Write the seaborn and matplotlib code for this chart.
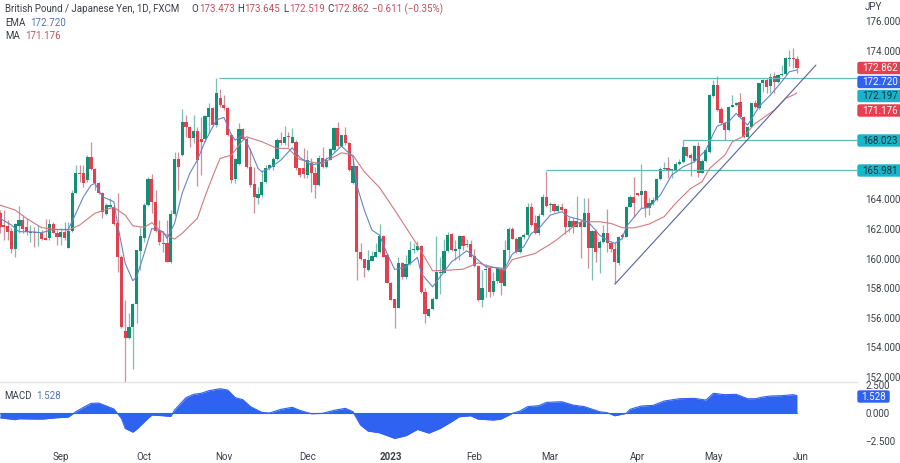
"""GBP/JPY daily chart with EMA, MA, support lines and a MACD pane."""

import matplotlib.pyplot as plt
from matplotlib.patches import FancyBboxPatch
import pandas as pd
import seaborn as sns

opens = [
    163.05, 162.26, 162.19, 161.88, 160.62, 162.19, 162.6, 162.1, 161.72, 161.74,
    161.72, 161.7, 161.36, 161.36, 162.33, 161.74, 161.47, 161.81, 160.73, 161.88,
    164.44, 165.74, 165.74, 165.29, 166.82, 166.01, 165.11, 164.39, 163.0, 163.5,
    163.49, 162.37, 160.12, 155.1, 154.67, 155.35, 156.9, 160.52, 161.36, 163.61,
    165.36, 163.83, 161.92, 161.04, 161.02, 159.78, 163.0, 166.69, 166.98, 169.18,
    168.89, 168.1, 168.62, 168.03, 168.03, 169.57, 170.13, 169.0, 170.8, 170.35,
    170.13, 168.33, 165.34, 166.37, 168.71, 168.03, 166.19, 165.02, 164.05, 164.28,
    165.18, 166.08, 166.19, 166.69, 167.99, 167.77, 168.22, 167.81, 167.88, 166.08,
    166.08, 165.63, 166.46, 165.78, 164.95, 166.75, 166.19, 166.68, 167.32, 168.82,
    167.58, 168.33, 167.81, 165.07, 166.24, 160.41, 160.0, 159.21, 159.85, 160.12,
    160.45, 161.51, 160.23, 158.36, 157.25, 156.67, 159.71, 158.72, 159.62, 160.57,
    160.57, 160.86, 157.75, 156.11, 156.58, 157.3, 159.03, 159.03, 160.5, 161.65,
    160.52, 160.61, 161.51, 160.9, 160.95, 160.16, 159.51, 157.19, 159.21, 159.37,
    157.75, 158.5, 159.28, 158.16, 160.57, 161.96, 161.35, 160.45, 161.42, 161.58,
    163.45, 162.37, 161.69, 162.93, 164.12, 163.58, 163.65, 163.22, 163.45, 163.31,
    162.1, 162.54, 162.14, 162.43, 162.14, 163.08, 160.74, 161.87, 160.68, 161.13,
    161.73, 161.06, 160.61, 159.67, 161.58, 161.47, 163.49, 164.17, 164.39, 164.28,
    164.57, 163.38, 163.67, 163.94, 165.34, 166.01, 166.08, 165.97, 165.92, 166.35,
    166.53, 167.5, 166.98, 166.6, 167.59, 165.78, 166.6, 167.2, 170.98, 171.7,
    170.06, 169.11, 168.67, 170.24, 170.35, 170.58, 169.57, 168.21, 168.89, 170.47,
    170.13, 171.82, 172.04, 171.63, 172.31, 171.93, 172.38, 172.44, 173.46, 173.48,
    173.473,
]
highs = [
    163.27, 163.27, 162.6, 162.03, 162.37, 163.54, 162.93, 162.71, 162.26, 162.15,
    162.26, 161.92, 162.64, 162.64, 162.48, 161.92, 162.03, 162.48, 162.48, 164.62,
    166.3, 166.3, 166.3, 166.98, 167.88, 166.08, 165.18, 164.5, 163.72, 164.06,
    163.54, 164.39, 160.23, 157.2, 156.3, 156.97, 160.6, 162.1, 163.72, 165.5,
    165.7, 164.62, 162.6, 161.81, 162.6, 163.27, 167.2, 167.2, 170.06, 169.68,
    168.93, 169.68, 168.89, 169.57, 169.68, 170.47, 170.2, 172.15, 171.41, 171.03,
    170.2, 168.44, 166.75, 169.12, 168.78, 168.21, 167.43, 166.19, 164.84, 165.97,
    166.3, 166.41, 166.87, 168.1, 168.55, 168.93, 168.55, 168.78, 167.99, 166.12,
    167.43, 167.31, 166.75, 166.19, 166.98, 167.54, 166.87, 167.43, 168.89, 169.23,
    168.33, 168.89, 167.88, 166.75, 166.24, 161.02, 160.0, 160.57, 160.52, 161.02,
    162.32, 161.58, 160.3, 158.43, 157.3, 160.12, 159.78, 160.23, 161.2, 161.02,
    161.2, 160.9, 157.98, 156.63, 157.41, 161.51, 160.12, 161.29, 161.8, 161.74,
    161.24, 161.62, 161.58, 161.29, 161.24, 160.61, 159.55, 159.21, 159.62, 159.44,
    159.1, 159.44, 159.33, 161.24, 162.14, 162.14, 161.42, 161.51, 161.69, 163.72,
    163.72, 162.93, 163.04, 164.35, 165.92, 163.83, 163.76, 163.67, 163.72, 163.38,
    162.81, 162.7, 164.21, 162.59, 164.05, 164.05, 161.92, 161.96, 161.24, 162.25,
    163.31, 161.13, 161.13, 161.51, 161.69, 163.54, 164.28, 165.47, 164.44, 166.37,
    164.62, 164.05, 164.17, 165.4, 166.19, 166.53, 166.82, 166.01, 166.53, 166.69,
    167.99, 167.54, 167.09, 167.63, 167.88, 166.69, 167.43, 171.1, 172.04, 172.31,
    170.24, 169.23, 170.29, 171.03, 170.58, 171.14, 169.61, 168.93, 170.51, 170.69,
    171.86, 172.09, 172.15, 172.53, 172.6, 172.44, 173.05, 173.57, 174.07, 174.22,
    173.645,
]
lows = [
    161.7, 161.25, 161.25, 160.35, 160.12, 161.7, 161.7, 161.58, 161.13, 160.8,
    160.84, 161.25, 161.25, 161.25, 161.7, 160.91, 160.91, 161.25, 160.68, 161.81,
    164.39, 165.18, 164.84, 165.18, 165.97, 164.62, 164.35, 162.71, 162.93, 163.45,
    162.26, 159.11, 155.28, 151.6, 154.6, 152.54, 155.62, 159.22, 161.13, 163.54,
    163.05, 161.81, 160.91, 160.46, 159.78, 159.71, 162.9, 164.62, 166.91, 168.21,
    167.54, 167.76, 164.88, 165.63, 167.88, 168.44, 168.93, 168.89, 170.24, 170.02,
    168.26, 165.11, 165.11, 166.3, 167.99, 166.08, 164.84, 163.04, 163.67, 164.17,
    165.11, 165.97, 165.97, 166.64, 167.65, 167.65, 167.54, 167.76, 165.97, 165.51,
    165.4, 165.4, 164.5, 164.05, 164.88, 166.08, 166.08, 166.64, 167.2, 167.54,
    167.54, 167.65, 165.92, 165.02, 158.58, 159.89, 158.77, 159.17, 159.8, 160.07,
    160.38, 160.07, 158.32, 157.19, 155.32, 156.63, 158.65, 158.65, 159.55, 160.34,
    160.52, 157.69, 155.66, 156.07, 156.52, 157.25, 157.64, 158.99, 160.45, 160.52,
    159.89, 159.89, 160.57, 160.79, 160.07, 159.44, 157.12, 156.7, 157.41, 157.41,
    157.53, 158.36, 157.53, 158.14, 159.89, 161.29, 160.38, 160.38, 161.35, 161.51,
    162.18, 161.65, 161.62, 162.86, 163.49, 163.15, 163.15, 163.15, 163.22, 161.65,
    161.8, 161.69, 162.1, 160.05, 162.1, 159.33, 158.54, 159.78, 158.99, 161.06,
    160.45, 160.45, 158.32, 159.55, 161.35, 161.42, 163.45, 162.82, 164.21, 163.38,
    162.77, 162.93, 163.6, 163.9, 165.29, 165.96, 165.4, 165.4, 165.85, 166.3,
    166.46, 166.82, 165.56, 166.53, 165.47, 165.74, 166.53, 167.15, 170.91, 169.97,
    169.07, 167.99, 168.62, 170.2, 170.29, 169.45, 168.1, 168.17, 168.85, 170.13,
    170.06, 171.25, 171.19, 171.19, 171.19, 171.82, 172.31, 172.38, 173.01, 172.83,
    172.519,
]
closes = [
    162.15, 162.1, 161.81, 160.62, 162.3, 162.6, 161.97, 161.81, 161.74, 161.72,
    161.74, 161.29, 161.25, 162.33, 161.74, 161.47, 161.81, 161.36, 161.88, 164.44,
    165.78, 165.69, 165.11, 166.82, 166.01, 165.11, 164.39, 163.16, 163.61, 163.61,
    162.33, 160.12, 155.4, 154.67, 155.35, 156.9, 160.57, 161.5, 163.61, 165.36,
    163.83, 161.88, 161.13, 161.0, 159.78, 163.0, 166.69, 166.19, 169.18, 168.89,
    168.1, 168.62, 166.64, 167.88, 169.61, 170.13, 169.0, 171.19, 170.35, 170.13,
    168.33, 165.29, 166.69, 168.71, 168.03, 166.19, 164.95, 164.17, 164.32, 165.18,
    166.12, 166.3, 166.69, 167.99, 167.77, 168.22, 168.17, 168.17, 166.12, 165.63,
    165.7, 166.64, 165.78, 164.95, 166.75, 166.19, 166.68, 167.36, 168.82, 167.58,
    168.33, 167.77, 165.97, 166.24, 160.41, 159.96, 159.33, 159.89, 160.16, 160.45,
    161.51, 160.12, 158.36, 157.23, 156.67, 159.71, 158.72, 159.62, 160.57, 160.61,
    160.86, 157.71, 156.24, 156.58, 157.3, 159.1, 159.05, 160.5, 161.62, 160.57,
    160.61, 161.51, 160.86, 160.93, 160.12, 159.49, 157.19, 157.98, 159.3, 157.75,
    158.5, 159.33, 158.36, 160.57, 161.96, 161.35, 160.45, 161.42, 161.58, 163.45,
    162.25, 161.69, 162.86, 164.12, 163.54, 163.6, 163.22, 163.54, 163.27, 162.1,
    162.54, 162.14, 162.54, 162.14, 163.08, 160.74, 161.87, 160.45, 161.13, 161.73,
    161.06, 160.61, 159.78, 161.47, 161.42, 163.49, 164.17, 163.72, 164.28, 164.57,
    163.38, 163.76, 163.94, 165.34, 166.03, 166.08, 165.92, 165.99, 166.35, 166.53,
    167.5, 166.91, 166.75, 167.59, 165.78, 166.6, 167.32, 171.03, 171.7, 170.0,
    169.11, 168.67, 170.24, 170.35, 170.51, 169.52, 168.17, 168.89, 170.47, 170.2,
    171.82, 172.04, 171.59, 172.27, 171.93, 172.38, 172.44, 173.5, 173.48, 173.46,
    172.862,
]

ma_idx = [
    0, 4, 7, 11, 15, 18, 21, 25, 27, 30, 33, 35, 38, 40, 43, 46, 48, 52, 54, 56,
    58, 61, 64, 65, 69, 73, 76, 78, 79, 83, 85, 88, 90, 93, 96, 100, 104, 110, 114,
    118, 122, 126, 128, 133, 135, 141, 146, 151, 153, 156, 158, 161, 164, 167, 171,
    175, 178, 182, 185, 187, 191, 193, 196, 199, 204, 207, 209, 210,
]
ma_vals = [
    163.6, 163.27, 162.7, 162.08, 161.96, 161.92, 162.26, 163.05, 163.23, 163.45,
    162.93, 162.21, 162.1, 162.42, 161.7, 161.31, 161.7, 162.71, 164.17, 165.52,
    166.75, 166.98, 167.99, 168.21, 167.88, 167.43, 167.43, 166.87, 166.68, 166.46,
    166.41, 166.86, 167.13, 166.98, 165.85, 164.79, 163.27, 160.9, 159.17,
    159.21, 159.28, 159.71, 159.55, 159.21, 159.93, 160.34, 161.13, 162.14, 162.48,
    162.48, 162.48, 162.37, 162.07, 162.07, 162.32,
    162.82, 163.72, 164.73, 165.18, 166.08, 166.98, 167.88, 168.26, 169.11, 170.0,
    170.8, 171.03, 171.176,
]
ema_idx = [
    0, 3, 5, 8, 11, 14, 18, 20, 22, 24, 25, 27, 30, 31, 33, 35, 36, 38, 40, 43, 44,
    46, 48, 50, 52, 54, 57, 59, 61, 62, 64, 66, 68, 69, 71, 74, 77, 79, 82, 84, 87,
    90, 93, 94, 96, 98, 100, 102, 104, 107, 110, 111, 114, 116, 119, 123, 125, 128,
    133, 135, 138, 140, 142, 145, 148, 150, 155, 158, 160, 162, 164, 165, 169, 171,
    174, 177, 180, 183, 186, 188, 189, 192, 194, 197, 200, 203, 206, 208, 210,
]
ema_vals = [
    162.71, 162.26, 161.81, 161.81, 161.74, 161.96, 161.96, 163.05, 164.17, 164.95,
    165.07, 164.17, 163.83, 162.26, 159.67, 158.5, 158.77, 160.34, 162.03, 161.81,
    161.36, 162.37, 164.4, 165.74, 166.64, 167.88, 169.34, 169.52, 168.33, 167.99,
    168.33, 167.31, 166.08, 165.85, 166.08, 166.64, 167.47, 166.82, 166.3, 166.41,
    166.86, 167.58, 166.86, 164.95, 163.27, 161.92, 161.58, 160.34, 159.26, 159.44,
    160.07, 158.99, 158.09, 158.77, 159.78, 160.52, 160.12, 159.44, 159.33, 160.3,
    160.79, 161.69, 162.03, 162.93, 163.15, 162.81, 162.48, 161.58, 161.24, 161.02,
    161.35, 162.14, 163.38, 163.44, 164.28, 165.63, 166.19, 166.53, 167.32, 168.44,
    168.93, 169.23, 169.79, 169.0, 170.24, 171.03, 171.93, 172.6, 172.72,
]

macd_idx = [
    0, 4, 5, 11, 15, 18, 20, 22, 24, 26, 28, 30, 32, 33, 35, 36, 39, 40, 43, 45, 46,
    49, 51, 53, 55, 58, 60, 62, 64, 66, 69, 71, 74, 77, 79, 82, 85, 88, 91, 93, 95,
    97, 100, 104, 107, 110, 113, 116, 119, 121, 124, 126, 130, 132, 135, 137, 139,
    142, 144, 148, 151, 154, 158, 160, 162, 165, 166, 169, 172, 175, 179, 183, 186,
    188, 191, 194, 197, 199, 201, 203, 206, 209, 210,
]
macd_vals = [
    -0.45, -0.62, -0.54, -0.57, -0.45, -0.39, 0.09, 0.48, 0.83, 0.86, 0.6, 0.33,
    -0.5, -1.4, -1.73, -1.49, -0.5, -0.21, -0.27, -0.33, 0.24, 1.34, 1.64, 1.73,
    1.96, 2.14, 2.02, 1.34, 1.16, 0.54, 0.03, -0.03, 0.3, 0.48, 0.21, -0.09, -0.06,
    0.21, 0.39, 0.09, -1.1, -1.64, -1.79, -2.29, -2.05, -1.49, -1.82, -1.4, -0.8,
    -0.36, -0.27, -0.57, -0.65, -0.57, -0.06, 0.15, 0.54, 0.63, 0.92, 0.98, 0.68,
    0.54, 0.09, 0.0, -0.27, -0.06, 0.3, 0.6, 0.65, 1.04, 1.25, 1.28, 1.13, 1.73,
    1.61, 1.64, 1.25, 1.25, 1.4, 1.49, 1.52, 1.61, 1.528,
]

month_labels = ["Sep", "Oct", "Nov", "Dec", "2023", "Feb", "Mar", "Apr", "May", "Jun"]
month_idx = [16, 38, 59, 81, 103, 125, 145, 168, 188, 211]
price_ticks = [176, 174, 164, 162, 160, 158, 156, 154, 152]
macd_ticks = [2.5, 0.0, -2.5]

# level, first candle of the drawn line
support_levels = [172.197, 168.023, 165.981]
support_starts = [57.7, 180, 144]
trend_idx = [162, 215]
trend_vals = [158.26, 173.05]

# last value tags: label, fill colour, text colour
tag_labels = ["172.862", "172.720", "172.197", "171.176", "168.023", "165.981"]
tag_fills = ["#e5404f", "#2f62f0", "#18b4c9", "#e5404f", "#18b4c9", "#18b4c9"]
tag_texts = ["#ffffff", "#ffffff", "#17323a", "#ffffff", "#17323a", "#17323a"]
tag_rows = [68, 82, 96, 110.5, 140.5, 170.5]

GREEN = "#128f75"
RED = "#e3404f"
GREEN_WICK = "#7dbfb0"
RED_WICK = "#cf8f98"
TEAL_LINE = "#62b9bd"
BLUE_LINE = "#6486c6"
RED_LINE = "#cf7a7f"
NAVY_LINE = "#5563a3"
TEXT = "#3a3e48"
BLUE_TEXT = "#4a78b8"
RED_TEXT = "#c2505f"
FONT_SIZE = 7.0

W, H = 900, 463
CANDLE_PX = 3.795


def draw_candles(ax, df):
    up = df["close"] >= df["open"]
    wick_colors = [GREEN_WICK if u else RED_WICK for u in up]
    body_colors = [GREEN if u else RED for u in up]
    ax.vlines(df["idx"], df["low"], df["high"], colors=wick_colors, linewidth=0.9, zorder=2)
    bottoms = df[["open", "close"]].min(axis=1)
    heights = (df["open"] - df["close"]).abs().clip(lower=0.08)
    ax.bar(df["idx"], heights, bottom=bottoms, width=0.84, color=body_colors, linewidth=0, zorder=3)


def draw_tags(over):
    for label, fill, txt, row in zip(tag_labels, tag_fills, tag_texts, tag_rows):
        over.add_patch(FancyBboxPatch((858, row - 5.5), 50, 11, boxstyle="round,pad=0,rounding_size=1.5",
                                      facecolor=fill, edgecolor=fill, linewidth=1))
        over.text(880, row, label, color=txt, fontsize=FONT_SIZE, ha="center", va="center")
    over.add_patch(FancyBboxPatch((858, 391), 31, 11, boxstyle="round,pad=0,rounding_size=1.5",
                                  facecolor="#2f62f0", edgecolor="#2f62f0", linewidth=1))
    over.text(873.5, 396.5, "1.528", color="#ffffff", fontsize=FONT_SIZE, ha="center", va="center")


def draw_header(over):
    row = [
        (5, "British Pound / Japanese Yen, 1D, FXCM", TEXT),
        (191, "O", TEXT), (199, "173.473", RED_TEXT),
        (237, "H", TEXT), (244, "173.645", RED_TEXT),
        (283, "L", TEXT), (289, "172.519", RED_TEXT),
        (327, "C", TEXT), (333, "172.862", RED_TEXT),
        (372, "−0.611 (−0.35%)", RED_TEXT),
    ]
    for x, label, color in row:
        over.text(x, 9, label, color=color, fontsize=FONT_SIZE, ha="left", va="center")
    over.text(5, 22.5, "EMA", color=TEXT, fontsize=FONT_SIZE, ha="left", va="center")
    over.text(30, 22.5, "172.720", color=BLUE_TEXT, fontsize=FONT_SIZE, ha="left", va="center")
    over.text(5, 36, "MA", color=TEXT, fontsize=FONT_SIZE, ha="left", va="center")
    over.text(25, 36, "171.176", color=RED_TEXT, fontsize=FONT_SIZE, ha="left", va="center")
    over.text(4, 396, "MACD", color=TEXT, fontsize=FONT_SIZE, ha="left", va="center")
    over.text(36, 396, "1.528", color=BLUE_TEXT, fontsize=FONT_SIZE, ha="left", va="center")
    over.text(865, 7, "JPY", color=TEXT, fontsize=FONT_SIZE, ha="left", va="center")


def main():
    sns.set_theme(style="white")
    plt.rcParams["font.family"] = ["Roboto", "DejaVu Sans"]

    candles = pd.DataFrame({"open": opens, "high": highs, "low": lows, "close": closes})
    candles["idx"] = range(len(candles))
    ma_df = pd.DataFrame({"idx": ma_idx, "value": ma_vals})
    ema_df = pd.DataFrame({"idx": ema_idx, "value": ema_vals})
    macd_df = pd.DataFrame({"idx": macd_idx, "value": macd_vals})

    fig = plt.figure(figsize=(W / 100, H / 100), dpi=100, facecolor="white")
    ax = fig.add_axes([0, 1 - 382 / H, 857 / W, 382 / H])
    pane = fig.add_axes([0, 1 - 445 / H, 857 / W, 62 / H])

    xmax = 857 / CANDLE_PX
    draw_candles(ax, candles)
    sns.lineplot(data=ma_df, x="idx", y="value", ax=ax, color=RED_LINE, linewidth=0.8, zorder=4, legend=False)
    sns.lineplot(data=ema_df, x="idx", y="value", ax=ax, color=BLUE_LINE, linewidth=0.8, zorder=4, legend=False)
    for level, start in zip(support_levels, support_starts):
        ax.hlines(level, start, xmax, colors=TEAL_LINE, linewidth=0.9, zorder=3)
    sns.lineplot(x=trend_idx, y=trend_vals, ax=ax, color=NAVY_LINE, linewidth=0.8, zorder=4, legend=False)

    ax.set_xlim(0, xmax)
    ax.set_ylim(151.67, 177.44)
    ax.set_xlabel("")
    ax.set_ylabel("")
    ax.set_xticks([])
    ax.yaxis.tick_right()
    ax.set_yticks(price_ticks, [f"{t:.3f}" for t in price_ticks])

    sns.lineplot(data=macd_df, x="idx", y="value", ax=pane, color="#2f62f0", linewidth=0.8, legend=False)
    pane.fill_between(macd_df["idx"], macd_df["value"], 0, color="#2f62f0", linewidth=0)
    pane.axhline(0, xmax=210 / xmax, color="#2f62f0", linewidth=0.8)
    pane.set_xlim(0, xmax)
    pane.set_ylim(-2.88, 2.65)
    pane.set_xlabel("")
    pane.set_ylabel("")
    pane.yaxis.tick_right()
    pane.set_yticks(macd_ticks, ["2.500", "0.000", "−2.500"])
    pane.set_xticks(month_idx, month_labels)
    pane.get_xticklabels()[4].set_fontweight("bold")

    for a in (ax, pane):
        for side in ("top", "left", "right", "bottom"):
            a.spines[side].set_visible(False)
        a.tick_params(axis="y", length=0, labelsize=FONT_SIZE, labelcolor=TEXT, pad=6)
        a.tick_params(axis="x", length=0, labelsize=FONT_SIZE, labelcolor=TEXT, pad=5)
        a.set_facecolor("none")
    ax.spines["bottom"].set_visible(True)
    ax.spines["bottom"].set_color("#e3e4e8")
    ax.spines["bottom"].set_linewidth(1.0)

    over = fig.add_axes([0, 0, 1, 1])
    over.set_xlim(0, W)
    over.set_ylim(H, 0)
    over.axis("off")
    over.patch.set_alpha(0)
    draw_tags(over)
    draw_header(over)

    fig.savefig("out.png", dpi=100, facecolor="white")
    plt.close(fig)


if __name__ == "__main__":
    main()
